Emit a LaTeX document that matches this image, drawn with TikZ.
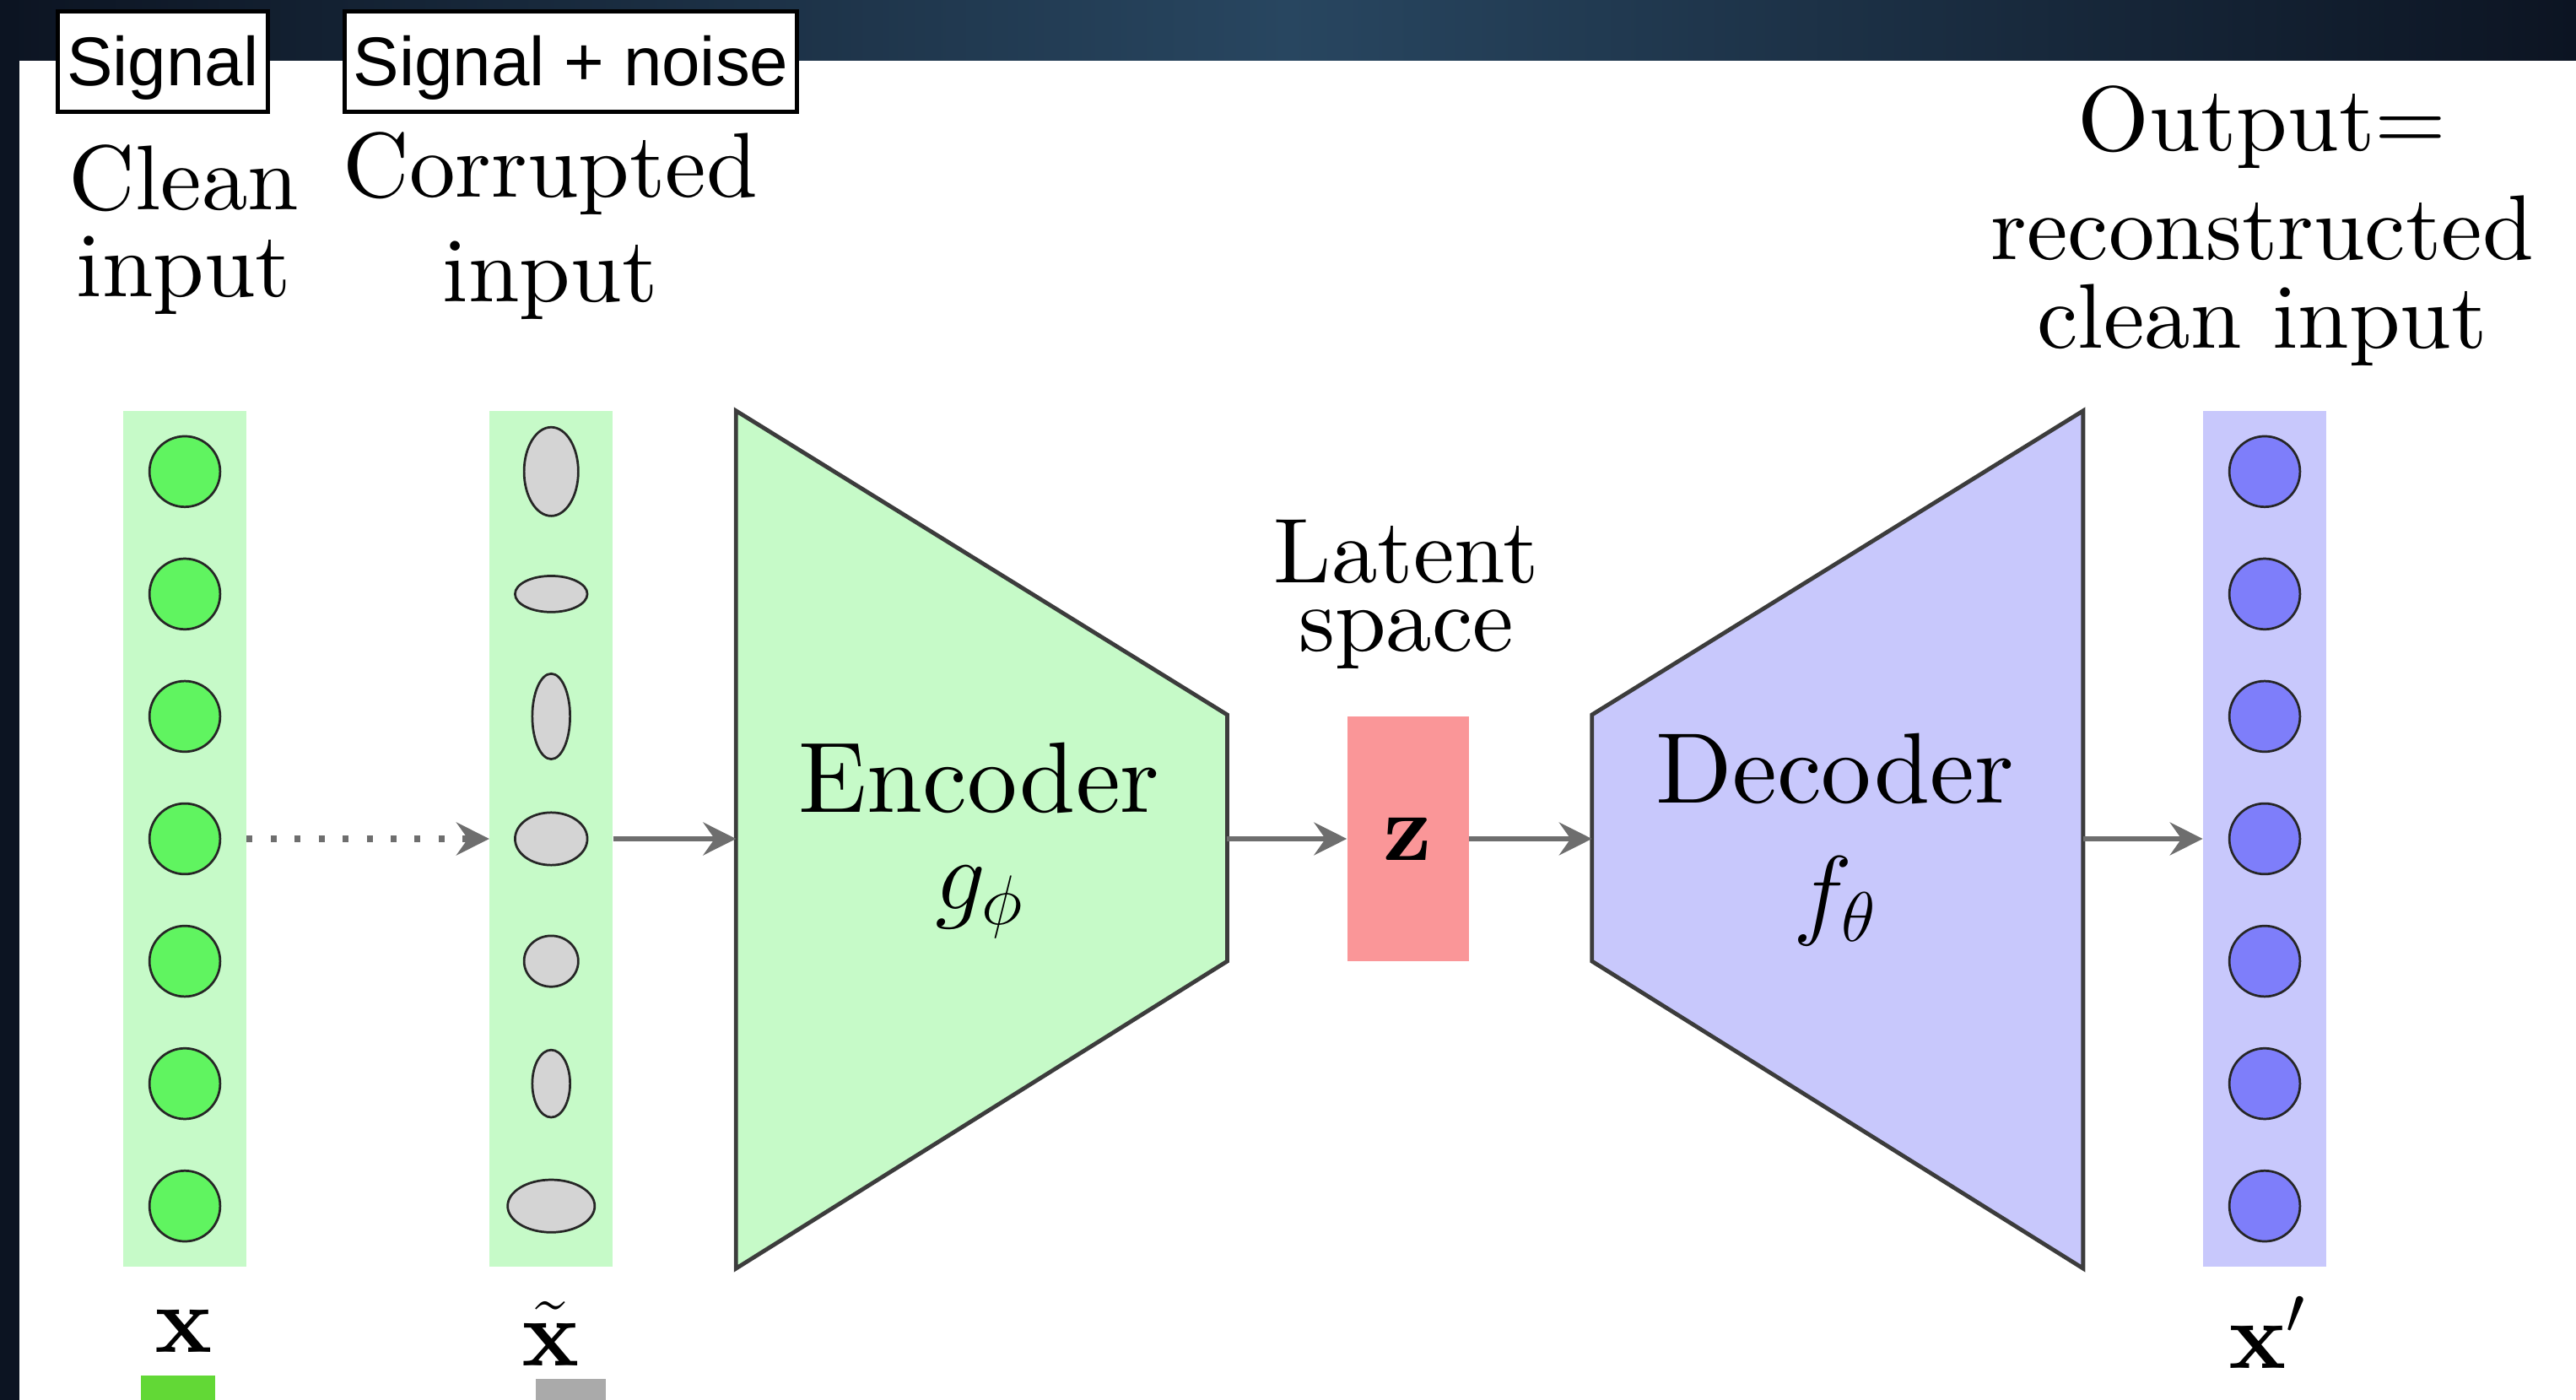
\RequirePackage{fix-cm}
\documentclass[tikz,border=0pt]{standalone}
\usepackage{fontspec}
\setmainfont{lmroman10-regular.otf}[BoldFont=lmroman10-bold.otf, ItalicFont=lmroman10-italic.otf]
\newfontfamily\tagfont{Liberation Sans}
\usetikzlibrary{arrows.meta,shapes.geometric}

\definecolor{spacedark}{RGB}{12,20,34}
\definecolor{spacemid}{RGB}{40,70,96}
\definecolor{colgreen}{RGB}{198,250,200}
\definecolor{unitgreen}{RGB}{96,244,96}
\definecolor{noisegray}{RGB}{212,212,212}
\definecolor{latentred}{RGB}{250,150,152}
\definecolor{colblue}{RGB}{200,200,252}
\definecolor{unitblue}{RGB}{126,126,250}
\definecolor{arrowgray}{RGB}{110,110,110}
\definecolor{edgegray}{RGB}{60,60,60}
\definecolor{tabgreen}{RGB}{98,216,54}
\definecolor{tabgray}{RGB}{170,170,170}

\tikzset{
  tagbox/.style={draw, line width=2.5pt, fill=white, inner sep=0pt, minimum height=61pt,
    text height=32pt, text depth=3pt, font=\tagfont\fontsize{42}{42}\selectfont},
  column/.style={inner sep=0pt, minimum width=75pt, minimum height=521pt},
  unit/.style={circle, draw=black!85, line width=1.4pt, inner sep=0pt, minimum size=43pt},
  noisy/.style={ellipse, draw=black!85, line width=1.4pt, fill=noisegray, inner sep=0pt},
  flow/.style={draw=arrowgray, line width=2.8pt, -{Stealth[length=20pt,width=20pt,inset=7pt]}},
  block/.style={draw=edgegray, line width=2.5pt, line join=miter},
  lab/.style={align=center, inner sep=0pt, font=\fontsize{56}{53}\selectfont},
  vec/.style={anchor=base, inner sep=0pt, font=\fontsize{58}{58}\selectfont},
}

\begin{document}
\begin{tikzpicture}[x=1pt,y=-1pt]
\useasboundingbox (0,0) rectangle (1568,852);
% backdrop
\shade[left color=spacedark, right color=spacedark, middle color=spacemid] (0,0) rectangle (1568,37);
\fill[spacedark] (0,0) rectangle (12,852);
\fill[white] (12,37) rectangle (1568,852);

\node[tagbox, minimum width=128pt] (sig) at (99,37.5) {Signal};
\node[tagbox, minimum width=275pt] (signoise) at (347.5,37.5) {Signal + noise};

\node[lab, anchor=north] (cleanlab) at (112,88) {Clean\\input};
\node[lab, anchor=north, font=\fontsize{56}{64}\selectfont] (corrlab) at (335,80) {Corrupted\\input};
\node[lab, anchor=north, font=\fontsize{56}{54}\selectfont] (outlab) at (1377,52) {Output=\\[12pt]reconstructed\\clean input};
\node[lab, anchor=north, font=\fontsize{56}{42}\selectfont] (latlab) at (856,316) {Latent\\space};

% layers
\node[column, fill=colgreen] (colx) at (112.5,510.5) {};
\node[column, fill=colgreen] (colxt) at (335.5,510.5) {};
\node[column, fill=colblue] (colxp) at (1378.5,510.5) {};
\foreach \i in {1,...,7} {
  \node[unit, fill=unitgreen] (x\i) at (112.5,{287+(\i-1)*74.5}) {};
  \node[unit, fill=unitblue] (xp\i) at (1378.5,{287+(\i-1)*74.5}) {};
}
\foreach \i/\w/\h in {1/33/54, 2/44/22, 3/23/52, 4/44/32, 5/33/31, 6/23/41, 7/53/32}
  \node[noisy, minimum width=\w pt, minimum height=\h pt] (xt\i) at (335.5,{287+(\i-1)*74.5}) {};

% encoder / latent / decoder
\draw[block, fill=colgreen] (448,250) -- (747,435) -- (747,585) -- (448,772) -- cycle;
\coordinate (encin) at (448,510.5);
\coordinate (encout) at (747,510.5);
\node[lab, anchor=north, font=\fontsize{61}{59}\selectfont] (enclab) at (596,452) {Encoder\\$g_\phi$};

\node[fill=latentred, inner sep=0pt, minimum width=74pt, minimum height=149pt,
  font=\fontsize{58}{58}\selectfont] (z) at (857,510.5) {$\mathbf{z}$};

\draw[block, fill=colblue] (969,435) -- (1268,250) -- (1268,772) -- (969,585) -- cycle;
\coordinate (decin) at (969,510.5);
\coordinate (decout) at (1268,510.5);
\node[lab, anchor=north, font=\fontsize{61}{75}\selectfont] (declab) at (1117,446) {Decoder\\$f_\theta$};

\draw[flow, line width=3.6pt, dash pattern=on 3.6pt off 11pt] (colx) -- (colxt);
\draw[flow] (colxt) -- (encin);
\draw[flow] (encout) -- (z);
\draw[flow] (z) -- (decin);
\draw[flow] (decout) -- (colxp);

\node[vec] (xlab) at (112,823) {$\mathbf{x}$};
\node[vec] (xtlab) at (335,831) {$\tilde{\mathbf{x}}$};
\node[vec] (xplab) at (1380,833) {$\mathbf{x}'$};

\fill[tabgreen] (86,837) rectangle (131,852);
\fill[tabgray] (326,839) rectangle (369,852);
\end{tikzpicture}
\end{document}
